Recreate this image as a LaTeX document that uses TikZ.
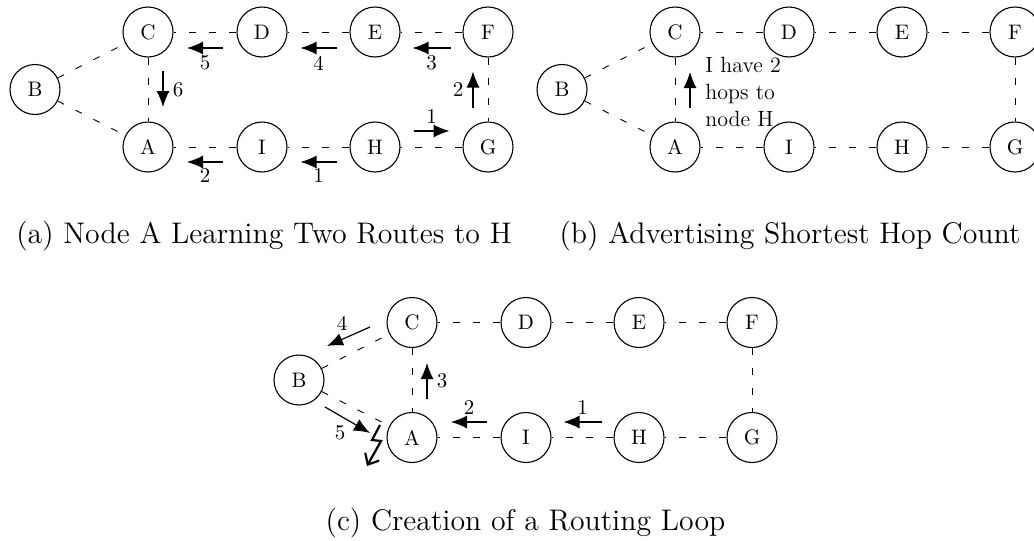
\documentclass[tikz,border=0pt]{standalone}
\usetikzlibrary{arrows.meta,calc}

% Nine routers and their links; #1 prefixes the node names
\newcommand\routernet[1]{%
  \node[host] (#1B) at (35,89.5) {B};
  \node[host] (#1C) at (148,32) {C};
  \node[host] (#1D) at (262,32) {D};
  \node[host] (#1E) at (375,32) {E};
  \node[host] (#1F) at (488,32) {F};
  \node[host] (#1A) at (148,147) {A};
  \node[host] (#1I) at (262,147) {I};
  \node[host] (#1H) at (375,147) {H};
  \node[host] (#1G) at (488,147) {G};
  \draw[link] (#1B) -- (#1C);
  \draw[link] (#1B) -- (#1A);
  \draw[link] (#1C) -- (#1A);
  \draw[link] (#1D) -- (#1C);
  \draw[link] (#1E) -- (#1D);
  \draw[link] (#1F) -- (#1E);
  \draw[link] (#1F) -- (#1G);
  \draw[link] (#1G) -- (#1H);
  \draw[link] (#1H) -- (#1I);
  \draw[link] (#1I) -- (#1A);
}

\begin{document}
\begin{tikzpicture}[x=0.5pt,y=-0.5pt,
  host/.style={draw, circle, line width=0.55pt, minimum size=25pt, inner sep=0pt,
    font=\fontsize{10.5}{12}\selectfont},
  link/.style={line width=0.45pt, dash pattern=on 3.5pt off 6.5pt},
  msg/.style={line width=0.6pt, -{Latex[length=8pt,width=6.5pt]}},
  hop/.style={font=\fontsize{10.5}{12}\selectfont, inner sep=0pt},
  note/.style={font=\fontsize{11}{13.5}\selectfont, align=left, inner sep=0pt},
  subcap/.style={font=\fontsize{14.9}{17.5}\selectfont, inner sep=0pt, anchor=base},
  bolt/.style={line width=1.1pt, line join=miter, -{Straight Barb[length=4.5pt,width=8pt]}}]
\useasboundingbox (0,0) rectangle (1034,541);

% (a) two routes towards H reach A
\routernet{a}
\draw[msg] ($(aC)!.5!(aD)+(18,16)$) -- ($(aC)!.5!(aD)+(-18,16)$);
\node[hop] (a5) at ($(aC)!.5!(aD)+(0,31)$) {5};
\draw[msg] ($(aD)!.5!(aE)+(18,16)$) -- ($(aD)!.5!(aE)+(-18,16)$);
\node[hop] (a4) at ($(aD)!.5!(aE)+(0,31)$) {4};
\draw[msg] ($(aE)!.5!(aF)+(19,16)$) -- ($(aE)!.5!(aF)+(-19,16)$);
\node[hop] (a3) at ($(aE)!.5!(aF)+(0,31)$) {3};
\draw[msg] ($(aF)!.5!(aG)+(-15,18)$) -- ($(aF)!.5!(aG)+(-15,-18)$);
\node[hop] (a2r) at ($(aF)!.5!(aG)+(-30,0)$) {2};
\draw[msg] ($(aH)!.5!(aG)+(-18,-16)$) -- ($(aH)!.5!(aG)+(18,-16)$);
\node[hop] (a1r) at ($(aH)!.5!(aG)+(0,-30)$) {1};
\draw[msg] ($(aI)!.5!(aH)+(18,15)$) -- ($(aI)!.5!(aH)+(-18,15)$);
\node[hop] (a1l) at ($(aI)!.5!(aH)+(0,29)$) {1};
\draw[msg] ($(aA)!.5!(aI)+(18,15)$) -- ($(aA)!.5!(aI)+(-18,15)$);
\node[hop] (a2l) at ($(aA)!.5!(aI)+(0,29)$) {2};
\draw[msg] ($(aC)!.5!(aA)+(15,-18.5)$) -- ($(aC)!.5!(aA)+(15,17.5)$);
\node[hop] (a6) at ($(aC)!.5!(aA)+(30,0)$) {6};
\node[subcap] (capa) at (264,243) {(a) Node A Learning Two Routes to H};

% (b) A advertises its hop count to C
\begin{scope}[shift={(527,0)}]
\routernet{b}
\draw[msg] ($(bC)!.5!(bA)+(15,18.5)$) -- ($(bC)!.5!(bA)+(15,-17.5)$);
\node[note, anchor=north west] (adv) at (178,57) {I have 2\\hops to\\node H};
\end{scope}
\node[subcap] (capb) at (790,243) {(b) Advertising Shortest Hop Count};

% (c) the loop that results
\begin{scope}[shift={(264,290.5)}]
\routernet{c}
\end{scope}
\coordinate (c4s) at (370,327);
\coordinate (c4e) at (327,346);
\coordinate (c5s) at (325,407);
\coordinate (c5e) at (370,433);
\draw[msg] (c4s) -- (c4e);
\node[hop] (c4) at (342,323) {4};
\draw[msg] (c5s) -- (c5e);
\node[hop] (c5) at (340,433) {5};
\draw[msg] ($(cC)!.5!(cA)+(15,19)$) -- ($(cC)!.5!(cA)+(15,-17)$);
\node[hop] (c3) at ($(cC)!.5!(cA)+(30,1)$) {3};
\draw[msg] ($(cA)!.5!(cI)+(18,-15.5)$) -- ($(cA)!.5!(cI)+(-18,-15.5)$);
\node[hop] (c2) at ($(cA)!.5!(cI)+(0,-30)$) {2};
\draw[msg] ($(cI)!.5!(cH)+(19,-15.5)$) -- ($(cI)!.5!(cH)+(-19,-15.5)$);
\node[hop] (c1) at ($(cI)!.5!(cH)+(0,-30)$) {1};
% broken link: a lightning bolt ending in an open arrow head
\coordinate (zap0) at (380,425);
\coordinate (zap1) at (372,440);
\coordinate (zap2) at (381,441);
\coordinate (zap3) at (367,466);
\draw[bolt] (zap0) -- (zap1) -- (zap2) -- (zap3);
\node[subcap] (capc) at (525.5,530) {(c) Creation of a Routing Loop};
\end{tikzpicture}
\end{document}
